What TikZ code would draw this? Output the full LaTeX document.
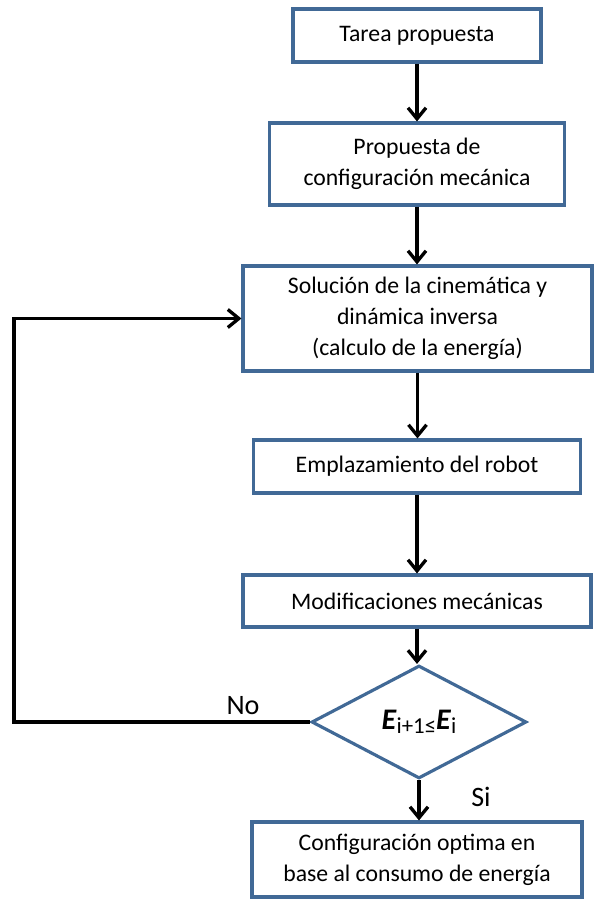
\documentclass[tikz,border=0pt]{standalone}
\usepackage{fontspec}
\setmainfont{Carlito}
\usetikzlibrary{shapes.geometric,arrows.meta}
\definecolor{boxline}{RGB}{65,105,150}
\begin{document}
\begin{tikzpicture}[x=0.02cm,y=-0.02cm,
  box/.style={draw=boxline,line width=1.8pt,fill=white,align=center,inner sep=2pt,
    font=\fontsize{13.5}{17.5}\selectfont},
  dec/.style={box,shape=diamond,inner sep=0pt},
  arr/.style={line width=1.9pt,-{Straight Barb[length=2.2mm,width=3.6mm,line width=1.9pt]}},
  lbl/.style={font=\fontsize{16}{18}\selectfont}]
\useasboundingbox (0,0) rectangle (593,899);
\node[box,minimum width=4.96cm,minimum height=1.06cm] (b1) at (417,35.5) {Tarea propuesta};
\node[box,minimum width=5.9cm,minimum height=1.64cm] (b2) at (417,164) {Propuesta de\\configuración mecánica};
\node[box,minimum width=6.98cm,minimum height=2.1cm] (b3) at (417.5,318.5) {Solución de la cinemática y\\dinámica inversa\\(calculo de la energía)};
\node[box,minimum width=6.54cm,minimum height=1.06cm] (b4) at (417,466.5) {Emplazamiento del robot};
\node[box,minimum width=6.96cm,minimum height=1.04cm] (b5) at (417,601) {Modificaciones mecánicas};
\node[dec,minimum width=4.3cm,minimum height=2.26cm] (dia) at (419,722)
  {\fontsize{17}{18}\selectfont\textbf{\textit{E}}\raisebox{-.25ex}{\fontsize{13}{14}\selectfont i+1≤}\textbf{\textit{E}}\raisebox{-.25ex}{\fontsize{13}{14}\selectfont i}};
\node[box,minimum width=6.6cm,minimum height=1.5cm] (b6) at (417,859.5) {Configuración optima en\\base al consumo de energía};
\foreach \a/\b in {b1/b2,b2/b3,b3/b4,b4/b5,b5/dia,dia/b6}
  \draw[arr] (\a) -- (\a |- \b.north);
\coordinate (lp) at (14,500);
\draw[arr] (dia.west) -- (dia.west -| lp) |- (b3.west);
\node[lbl] (no) at (243,706) {No};
\node[lbl] (si) at (481,797) {Si};
\end{tikzpicture}
\end{document}
